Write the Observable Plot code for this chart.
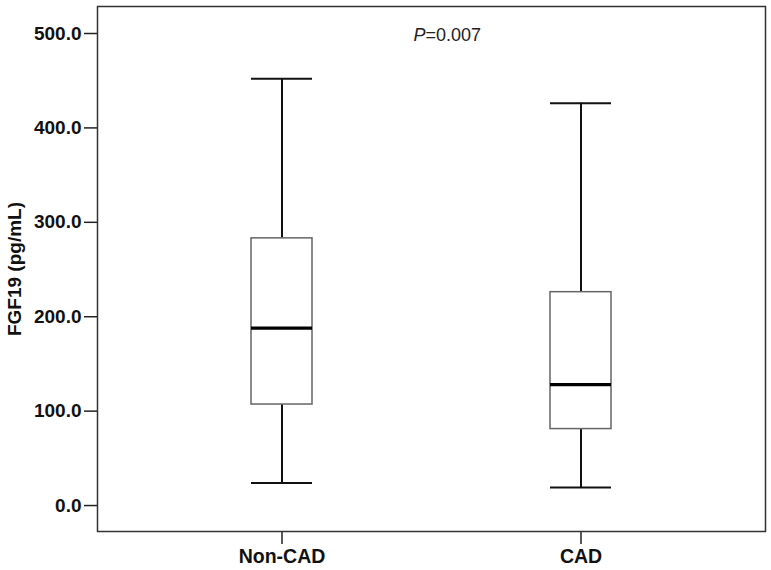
<!DOCTYPE html>
<html>
<head>
<meta charset="utf-8">
<script src="https://cdn.jsdelivr.net/npm/d3@7"></script>
<script src="https://cdn.jsdelivr.net/npm/@observablehq/plot@0.6"></script>
<style>
  html, body { margin: 0; padding: 0; background: #fff; }
</style>
</head>
<body>
<div id="chart"></div>
<script>
const groups = ["Non-CAD", "CAD"];
const whiskerLow = [24, 19];
const q1 = [107, 81];
const median = [188, 128];
const q3 = [283, 226];
const whiskerHigh = [452, 426];
const yTicks = [0, 100, 200, 300, 400, 500];
const pLabelY = [498];

const data = groups.map((g, i) => ({
  group: g, lo: whiskerLow[i], q1: q1[i], med: median[i], q3: q3[i], hi: whiskerHigh[i]
}));

const font = "'Liberation Sans', Arial, Helvetica, sans-serif";

const chart = Plot.plot({
  width: 771,
  height: 570,
  marginLeft: 97,
  marginRight: 6,
  marginTop: 6,
  marginBottom: 39,
  style: { fontFamily: font, fontSize: "19px", fontWeight: "bold", color: "#000", background: "#fff" },
  x: { domain: groups, paddingInner: 0.7967, paddingOuter: 0.5117, label: null },
  y: { domain: [-27.5, 528.6], label: null },
  marks: [
    Plot.ruleX(data, { x: "group", y1: "lo", y2: "q1", stroke: "#111", strokeWidth: 2 }),
    Plot.ruleX(data, { x: "group", y1: "q3", y2: "hi", stroke: "#111", strokeWidth: 2 }),
    Plot.tickY(data, { x: "group", y: "lo", stroke: "#111", strokeWidth: 2 }),
    Plot.tickY(data, { x: "group", y: "hi", stroke: "#111", strokeWidth: 2 }),
    Plot.barY(data, { x: "group", y1: "q1", y2: "q3", fill: "white", stroke: "#666", strokeWidth: 1.5 }),
    Plot.tickY(data, { x: "group", y: "med", stroke: "#000", strokeWidth: 3.2 }),
    Plot.axisY({ ticks: yTicks, tickFormat: d => d.toFixed(1), tickSize: 13, tickPadding: 3, stroke: "#222", strokeWidth: 1.5,
      fontSize: 19, fontWeight: "bold", fill: "#111",
      label: "FGF19 (pg/mL)", labelAnchor: "center", labelArrow: "none", labelOffset: 90 }),
    Plot.axisX({ tickSize: 13, tickPadding: 5, stroke: "#222", strokeWidth: 1.5, fontSize: 19.5, fontWeight: "bold", fill: "#111", label: null }),
    Plot.frame({ stroke: "#333", strokeWidth: 1.5 }),
    Plot.text(pLabelY, { y: d => d, text: () => "P", frameAnchor: "middle", textAnchor: "end", dx: -6, fontSize: 18, fontStyle: "italic", fontWeight: "normal", fill: "#222" }),
    Plot.text(pLabelY, { y: d => d, text: () => "=0.007", frameAnchor: "middle", textAnchor: "start", dx: -6, fontSize: 18, fontWeight: "normal", fill: "#222" })
  ]
});
document.getElementById("chart").appendChild(chart);
</script>
</body>
</html>
